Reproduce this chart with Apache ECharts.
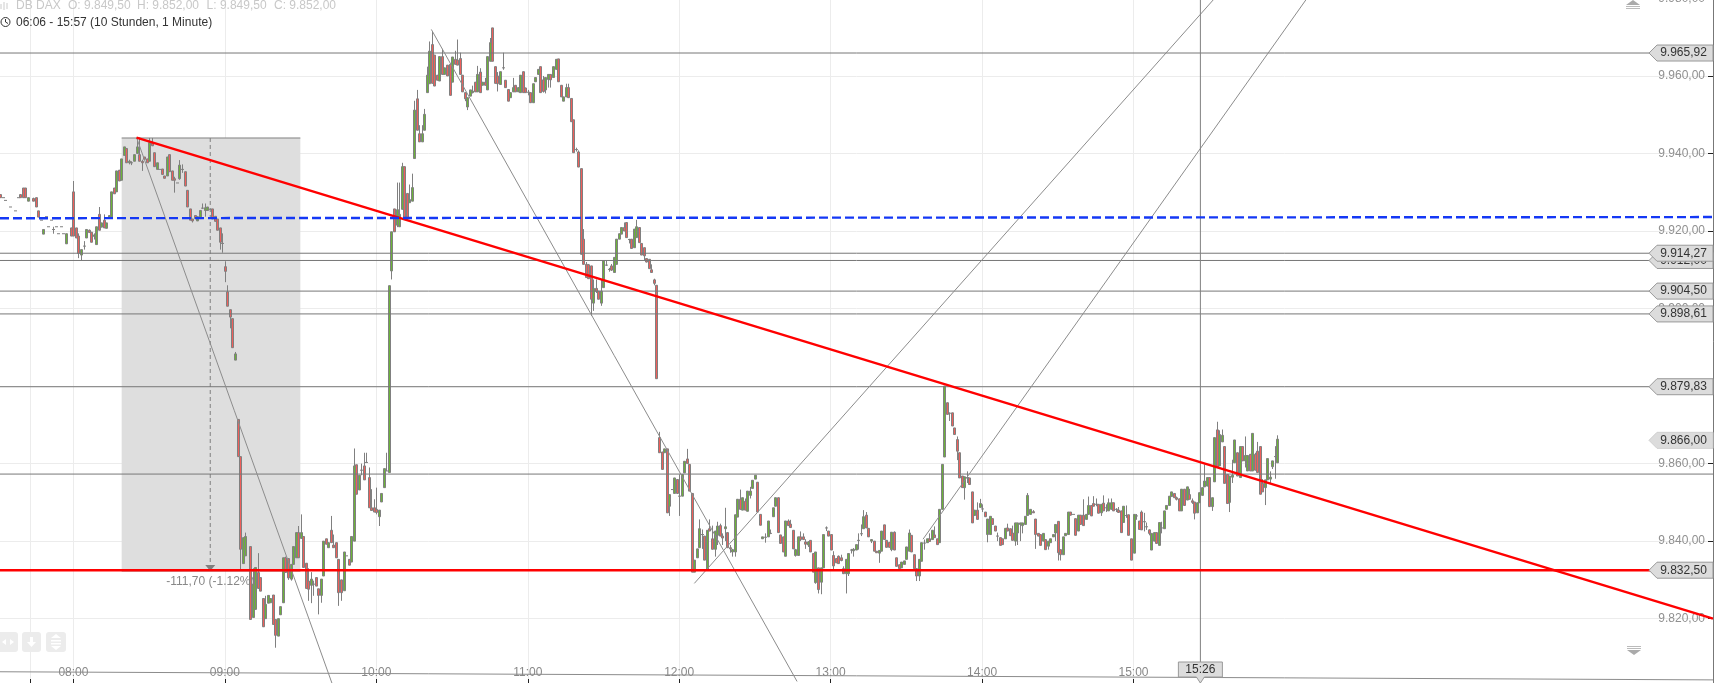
<!DOCTYPE html>
<html><head><meta charset="utf-8">
<style>html,body{margin:0;padding:0;background:#fff}#c{width:1716px;height:683px}</style>
<script src="https://cdn.jsdelivr.net/npm/echarts@6/dist/echarts.min.js"></script>
</head><body><div id="c"></div>
<script>
// Candles per hour: [open, high, low, close], one row per minute, null where no trade is drawn
const start07 = 451;
const hour07 = [
[9929.4,9929.4,9928.6,9928.6],[9928.6,9928.6,9928.6,9928.6],[9927.9,9927.9,9927.9,9927.9],null,[9926.2,9926.2,9926.2,9926.2],null,[9925.2,9925.2,9925.2,9925.2],[9928.6,9928.6,9928.6,9928.6],[9929.4,9929.4,9928.6,9928.6],[9931.1,9931.1,9928.6,9928.6],[9931.1,9931.1,9928.6,9928.6],[9927.7,9928.6,9927.7,9928.6],null,[9928.4,9928.6,9927.7,9927.7],[9928.6,9928.6,9926.2,9926.2],[9925.2,9925.2,9923.6,9923.6],[9922.8,9922.8,9922.8,9922.8],[9919.2,9920.4,9919.2,9920.4],[9923.7,9923.7,9923.7,9923.7],[9921.1,9921.1,9921.1,9921.1],[9922.8,9922.8,9922.8,9922.8],[9920.4,9921.1,9919.3,9920.4],[9921.1,9921.1,9921.1,9921.1],[9919.3,9919.3,9919.3,9919.3],[9921.1,9921.1,9921.1,9921.1],[9919.3,9919.3,9919.3,9919.3],[9916.7,9919.3,9916.7,9919.3],null,[9920.8,9920.8,9918.7,9918.7]];
const hour08 = [
[9930.1,9932.9,9918.7,9918.7],[9920.8,9920.8,9918.2,9918.2],[9918.7,9919.4,9913,9914.2],[9913.8,9915.2,9912.5,9915.2],[9916.1,9917.4,9915.2,9916.1],[9918.2,9920.4,9918.2,9920.4],[9920.2,9920.4,9919.6,9919.6],[9919.7,9919.7,9917.1,9917.1],[9918.6,9919.4,9917.8,9919],[9916.5,9921.1,9916.5,9921.1],
[9924.3,9926.2,9920.2,9920.2],[9921,9922.1,9921,9922.1],[9922.8,9924.3,9920.8,9920.8],[9920.7,9922.1,9920.7,9922.1],[9923.6,9924,9923.6,9924],[9923.6,9930.1,9923.6,9930.1],[9931.1,9931.1,9929.6,9929.6],[9930.1,9935.5,9930.1,9935.5],[9935.7,9935.7,9932.9,9932.9],[9933.1,9938.6,9933.1,9938.6],
[9939.5,9941.7,9939.5,9941.7],[9941.3,9941.3,9937.6,9937.6],[9937.6,9938.4,9937.2,9938],[9937.6,9938,9937,9937.6],[9938,9939.7,9938,9939.7],[9940,9944,9940,9941.7],[9939.7,9944.1,9938,9938],[9938,9938.4,9935.5,9937.6],[9939.1,9939.1,9938.5,9938.5],[9938.6,9938.6,9937.6,9937.6],
[9938,9944,9938,9942.8],[9942.8,9944,9941.9,9942],[9940.2,9940.2,9936.6,9936.6],[9935.9,9937.6,9935.9,9937.6],[9935.9,9935.9,9935.9,9935.9],[9936,9936,9934.6,9934.6],[9934.2,9934.2,9933.6,9933.6],[9934.2,9939.1,9934.2,9939.1],[9939.7,9939.7,9935.3,9935.3],[9935.5,9935.5,9933.1,9933.1],
[9933.5,9934,9929.9,9933.1],[9932.4,9932.4,9932.4,9932.4],[9933.5,9938.3,9933.2,9937],[9935.9,9937.2,9935,9935.9],[9935.3,9935.3,9931.6,9931.6],[9930.5,9930.5,9926.2,9926.2],[9925.7,9925.7,9922.8,9922.8],[9923.1,9923.1,9922.2,9922.6],[9924,9924,9923.2,9923.2],[9922.6,9923.7,9922.6,9923.7],
[9923.2,9925.3,9923.2,9925.3],[9925.9,9927.1,9925.7,9925.9],[9925.3,9927.1,9923.7,9926],[9925.3,9926.2,9925.3,9926.2],[9925.6,9925.6,9925.6,9925.6],[9925.7,9925.7,9923.1,9923.1],[9923.8,9923.8,9922.5,9922.5],[9923.1,9923.1,9920.2,9920.2],[9920.8,9920.8,9915.2,9917.1],[9916.8,9919.4,9914.4,9916.8]];
const hour09 = [
[9910.8,9912.2,9906.8,9909.6],[9904.3,9906,9900.6,9900.6],[9899.7,9899.7,9894.9,9897.8],[9897.4,9897.4,9889.9,9889.9],[9886.7,9888.8,9886.7,9888.3],[9871.4,9871.4,9861.8,9861.8],[9861.8,9861.8,9832.7,9837.9],[9834.2,9840.9,9834.2,9840.9],[9836.2,9842.2,9836.2,9841.2],null,
[9838.6,9838.6,9819.8,9819.8],[9820.3,9833,9820.3,9828.9],[9822.4,9833.2,9822.4,9833.2],[9831.9,9836.9,9827.8,9827.8],[9830.6,9830.6,9827.1,9827.1],[9825.2,9825.2,9817.9,9817.9],[9820,9825.9,9820,9823.7],[9824,9826,9824,9826],[9824.1,9825.2,9824.1,9825.2],[9826.1,9826.1,9818.5,9818.5],
[9819.8,9819.8,9812.5,9815.7],[9815.5,9820,9815.5,9820],[9821,9823.1,9821,9823.1],[9824.1,9835.7,9824.1,9835.7],[9835.7,9836,9831.9,9831.9],[9835.5,9835.5,9830,9830.5],[9830.2,9834,9829.8,9834],[9834,9838.6,9834,9838.6],[9835.7,9842.2,9835.7,9842.2],[9842.2,9843.9,9835.7,9835.7],
[9840.7,9846.9,9840.7,9842.2],[9841.2,9841.2,9833.2,9833.2],[9834.3,9834.3,9827.8,9827.8],[9829.7,9833,9824.6,9827.6],[9828.6,9832,9824,9830.2],[9828.9,9829.8,9825.9,9828.9],[9830.6,9830.6,9828.4,9828.4],[9827.7,9827.7,9821.1,9826],[9826,9830.2,9824.1,9830.2],[9831,9840,9831,9840],
[9840.6,9840.6,9839.2,9839.2],[9838.3,9839.6,9838.3,9839.6],[9842.8,9846.5,9839.6,9839.6],[9839,9841.7,9838.3,9838.3],[9839.6,9839.6,9835.7,9835.7],[9835.3,9835.3,9823.3,9826.7],[9830,9830,9824.6,9826.7],[9827.2,9837.2,9827.2,9837.2],[9836.2,9836.2,9836.2,9836.2],[9835.3,9835.3,9833.8,9833.8],
[9834.6,9841.2,9834.6,9841.2],[9840,9863.9,9840,9859.4],[9859.7,9859.7,9852.1,9852.1],[9853.2,9857,9853.2,9857],[9858.3,9860,9857,9858.3],[9859.4,9862.8,9855.8,9855.8],[9860.3,9862.8,9860.2,9860.3],[9856.4,9859,9848.6,9848.6],[9848.6,9853.4,9847.9,9847.9],[9848.6,9850.8,9847.5,9847.5]];
const hour10 = [
[9848.2,9853.8,9846.9,9847.4],[9846.3,9848,9843.9,9848],[9850.1,9852.3,9850.1,9852.3],[9853.8,9858.7,9853.8,9858.7],[9858.1,9862.8,9858.1,9858.1],[9857.7,9905.9,9857.7,9905.9],[9909.7,9919.8,9907.5,9919.8],[9925.7,9925.7,9919.8,9919.8],[9921.5,9932.5,9921,9925.5],[9921.1,9932.5,9921.1,9924.3],
[9925.6,9937.6,9925.6,9936.6],[9936.6,9936.6,9923.2,9923.2],[9929.7,9929.7,9923.2,9923.2],[9927.3,9932,9927.3,9928.1],[9927.7,9934.8,9927.7,9931.2],[9938.7,9953.6,9938.7,9951.2],[9954.1,9956.4,9946,9946],[9945.1,9947.3,9943,9943],[9943,9947.3,9943,9945.1],[9946,9951.5,9946,9950.1],
[9955.7,9962.4,9955.7,9960.2],[9958,9968.9,9958,9966.4],[9968.1,9971.5,9958.1,9958.1],[9965.4,9965.4,9957.4,9957.4],[9960.2,9960.2,9958.9,9958.9],[9958.7,9965,9958.7,9965],[9965,9967,9960.4,9960.4],[9960.4,9962.1,9960.4,9962.1],[9962.8,9962.8,9960,9960],[9963,9963,9955,9955],
[9958.4,9964.9,9958.4,9964.9],[9964.3,9966.5,9963,9963],[9964.1,9969.4,9962.8,9962.8],[9964.5,9966,9960.4,9960.4],[9960.2,9960.2,9955.9,9955.9],[9955.7,9955.7,9953.5,9954.1],[9952,9954.4,9951.2,9954.4],[9954.8,9956.4,9954.8,9956.4],[9955.7,9957.5,9955.5,9956.1],[9958.4,9958.4,9955.9,9955.9],
[9955.9,9962.6,9955.9,9960.4],[9961,9962,9955.7,9955.7],[9957.6,9958.4,9957.6,9958.4],[9958.4,9959.5,9957.6,9957.6],[9956.4,9965,9956.4,9965],[9963.8,9969.8,9963.8,9968.6],[9972.4,9972.4,9963.8,9963.8],[9962.4,9962.4,9958.1,9958.1],[9960,9961,9956,9958],[9957.8,9961.1,9957.8,9961.1],
[9962.1,9966,9961.6,9962.1],[9958.9,9958.9,9957,9957],[9956.5,9956.5,9953.5,9953.5],[9954.4,9955.7,9954.4,9955.7],[9955.9,9959.5,9955.9,9957],[9957.6,9957.6,9955.9,9955.9],[9955.9,9957,9955.9,9957],[9955.7,9960.2,9955.7,9960.2],[9961.1,9961.1,9955.7,9955.7],[9956.9,9957,9955.7,9955.7]];
const hour11 = [
[9955.8,9956.4,9955,9955.6],[9955.7,9955.7,9953.1,9953.1],[9953.1,9958,9953.1,9958],[9958.5,9959.6,9958.5,9959.6],[9960.4,9961.7,9960.4,9961.7],[9962.4,9962.4,9955.7,9955.7],[9959,9960,9955.7,9956],[9956.4,9959.6,9955.5,9959.6],[9959.1,9960.4,9957,9960.4],[9960.4,9960.4,9957,9959],
[9959.6,9962.4,9959.6,9962.4],[9961.7,9964.3,9961.7,9964.3],[9964.4,9964.4,9958.5,9958.5],[9957.6,9957.6,9954.6,9954.6],[9953.5,9954.6,9953.5,9954.6],[9954.6,9958,9954.6,9957],[9957,9958,9954.4,9954.4],[9954.2,9954.2,9948.2,9948.2],[9948.7,9948.7,9940.2,9940.2],[9941,9941.5,9940.5,9941],
[9940.4,9940.8,9936.5,9936.5],[9936.1,9936.1,9914,9914],[9917.9,9920.5,9911.4,9911.4],[9911.4,9912,9908,9908],[9911.3,9911.5,9907.7,9907.7],[9911,9911,9898.1,9902.4],[9901.4,9907.5,9899.4,9905.2],[9905.2,9907.5,9904,9904.4],[9904.5,9904.5,9902.4,9902.4],[9901.4,9907.5,9900.7,9904.5],
[9905.4,9912.3,9905.4,9912.3],[9911.2,9912.3,9911,9911.2],[9910.1,9910.5,9909.5,9910.1],[9911,9911.5,9909.7,9909.9],[9909.3,9913.2,9909.3,9913.2],[9911.4,9917.9,9911.4,9917.9],[9917.9,9919.3,9917.9,9919.3],[9919.2,9920.9,9919.2,9920.9],[9920.9,9922.2,9920,9920],[9922.2,9922.2,9918.3,9918.3],
[9917.8,9918,9916.8,9917.6],[9917.9,9917.9,9915.5,9915.5],[9915.7,9920.5,9915.7,9920.5],[9918.3,9922.9,9918.3,9921.1],[9920.9,9920.9,9917,9917],[9916.8,9916.8,9913.8,9913.8],[9915.7,9915.7,9912.3,9913.6],[9912.9,9912.9,9911.9,9912],[9912.7,9912.7,9910.3,9910.3],[9910,9911.4,9909.3,9909.3],
[9907.4,9907.7,9906,9906.5],[9906,9906,9881.9,9881.9],[9866.7,9868.2,9862.8,9862.8],[9863,9863,9858.5,9858.5],[9862.8,9863.8,9862.8,9863.8],[9863.8,9863.8,9847.3,9847.3],[9849,9852,9846.5,9852],[9853.3,9853.3,9853.3,9853.3],[9852.3,9856.3,9852.3,9856.3],[9855.9,9855.9,9852.3,9852.3]];
const hour12 = [
[9851.6,9857.2,9846.5,9851.6],[9851.6,9857.2,9851.6,9857.2],[9857.6,9860.6,9857.6,9860.6],[9861.2,9863.8,9860,9860],[9859.8,9859.8,9852.9,9852.9],[9852.3,9852.3,9832,9832],[9832,9835.1,9832,9835.1],[9835.7,9838,9835.7,9838],[9838.3,9845.6,9838.3,9843.2],[9841.7,9843,9838,9841.7],
[9841.3,9841.3,9835.1,9835.1],[9832.7,9842.8,9832.7,9842.8],[9843.2,9845.6,9842.6,9842.6],[9840.6,9844,9837.9,9837.9],[9837.9,9842.6,9836,9842.6],[9841.5,9845,9839,9843.9],[9844,9844.5,9841.3,9841.3],[9841.3,9842,9839,9840.8],[9843.2,9848.6,9840,9843.7],[9842.2,9842.2,9838.3,9838.3],
[9838.3,9839,9837,9838],[9837.2,9838,9836,9837.8],[9837.2,9846.8,9836,9846.8],[9846.2,9850.8,9846.2,9850.8],[9850.8,9853.3,9848.2,9848.2],[9848,9851.2,9848,9851.2],[9850.3,9851,9848,9848],[9847.7,9852.9,9847.7,9852.9],[9851.8,9854,9851,9852.9],[9853.6,9855.7,9853.6,9855.7],
[9856,9857,9856,9857],[9855.2,9855.2,9847.5,9847.5],[9846.9,9846.9,9844.1,9844.1],[9840.6,9841.1,9840.6,9841.1],[9841,9842,9839.6,9841],[9841.1,9845.2,9841.1,9845.2],[9842,9843,9841.8,9842],[9846.3,9848.6,9846.3,9848.6],[9849,9851.2,9849,9851.2],[9851.2,9851.2,9842.2,9842.2],
[9841.6,9841.6,9839.4,9839.4],[9841.1,9841.1,9837.2,9837.2],[9836.1,9845.2,9836.1,9845.2],[9845.2,9845.6,9844,9844],[9844.4,9845.5,9843.5,9843.5],[9842.8,9842.8,9838,9838],[9836.3,9838,9836,9837.8],[9836.3,9841.1,9836.3,9841.1],[9841.1,9842.5,9840,9840.4],[9841.1,9842,9840.4,9840.4],
[9839.8,9840.5,9838,9839.2],[9839,9840,9838.5,9839.8],[9840.2,9840.2,9837.2,9837.2],[9836.8,9836.8,9832,9832],[9829.3,9837.2,9829,9837.2],[9833.1,9833.1,9826.5,9827.5],[9829.4,9833.1,9826.3,9833.1],[9833.1,9841.7,9833.1,9841.7],[9843.4,9843.8,9842.6,9843.4],[9842.6,9842.6,9841.3,9841.3]];
const hour13 = [
[9841.7,9841.7,9837.7,9837.7],[9836.3,9837.4,9832.3,9833.6],[9835.5,9835.5,9834.4,9834.4],[9836.1,9836.3,9834.2,9834.2],[9835.7,9836.5,9834.8,9835],[9832.9,9833.5,9831.6,9831.6],[9831.6,9835.3,9826.5,9835.3],[9831.6,9836.8,9831,9836.8],[9837.7,9838,9836.8,9837.7],[9837.5,9838.2,9836,9837.9],
[9837.7,9839.1,9837.7,9839.1],[9840.2,9842,9837.8,9840.2],[9841.9,9844.3,9841.3,9841.9],[9843.2,9848,9843.2,9846.3],[9846.7,9847.5,9843.4,9843.4],[9843.3,9843.3,9841.1,9841.1],[9840,9840.5,9839.5,9840.4],[9840,9840,9837.4,9837.4],[9837.4,9837.4,9837,9837],[9836.9,9837.6,9834.4,9837.6],
[9837.4,9842.6,9837.4,9842.6],[9844.2,9844.2,9840.4,9840.4],[9840.2,9840.2,9838.4,9838.4],[9839.7,9839.7,9838.4,9838.4],[9837.8,9842.3,9837.4,9842.3],[9842.3,9842.5,9837.7,9837.7],[9835.7,9835.7,9833.5,9833.5],[9833.9,9833.9,9832.9,9832.9],[9833.1,9834.6,9833.1,9834.6],[9834,9834.9,9834,9834.9],
[9835.3,9838.5,9835.3,9838.5],[9837.4,9843,9837.4,9842.1],[9841.5,9841.5,9837.2,9837.2],[9836.5,9836.5,9832.9,9832.9],[9832.9,9832.9,9829.7,9831],[9831,9835.3,9829.7,9835.3],[9834.8,9839.6,9834.8,9839.6],[9839.5,9840.4,9837.8,9839.5],[9839.6,9840.6,9839.6,9840.6],[9840.6,9842,9839.8,9839.9],
[9840.4,9842.8,9840.4,9842.8],[9841.6,9843.8,9840.9,9840.9],[9840.6,9840.6,9839.1,9839.1],[9839.6,9848.2,9839.6,9848.2],[9848.2,9859.8,9848.2,9859.8],[9861.7,9880,9861.7,9880],[9875.7,9875.7,9872.7,9872.7],[9873,9873.2,9871,9873],[9873.1,9873.1,9869.7,9869.7],[9869.2,9869.2,9867.5,9867.5],
[9866.2,9867,9860.9,9863.2],[9862.8,9862.8,9856.3,9856.3],[9856.8,9856.8,9853.8,9853.8],[9853.8,9856.6,9850.7,9856.6],[9856.3,9858,9855,9856.4],[9856.3,9856.3,9854.6,9854.6],[9852.7,9852.7,9844.7,9844.7],[9846.6,9848,9846.6,9848],[9848,9850,9845.6,9845.6],[9848.7,9850.9,9848.7,9849.7]];
const hour14 = [
[9848.3,9849.5,9847.5,9848.3],[9847.5,9847.5,9846.3,9846.3],[9841.7,9845.7,9839.7,9845.7],[9841.7,9846.4,9841.7,9846.4],[9845.8,9845.8,9844.3,9844.3],[9843.9,9843.9,9842.6,9842.6],[9841.3,9842.2,9840,9841.3],[9840.9,9840.9,9838.9,9838.9],[9840.6,9840.6,9839.1,9839.1],[9840.6,9843.3,9840.6,9843.3],
[9843.4,9844.5,9842.6,9842.6],[9843.2,9843.2,9841.4,9841.4],[9842.1,9844,9840.2,9840.2],[9840,9844.7,9838.8,9844.7],[9842.1,9844.7,9839,9844.7],[9844.3,9844.7,9840,9844.7],[9844,9844.7,9842,9844.7],[9844.3,9846.4,9844.3,9846.4],[9846.6,9852.4,9846.6,9851.8],[9846.9,9848.2,9846.9,9848.2],
[9847.6,9848,9847.3,9847.3],[9845.7,9845.7,9838,9841.7],[9842,9842,9841.3,9841.3],[9841.7,9841.7,9838.9,9838.9],[9840,9842,9840,9842],[9840.4,9840.4,9837.8,9837.8],[9838.7,9840,9837.8,9840],[9839.6,9840.6,9839.6,9840.6],[9841.1,9841.7,9841.1,9841.7],[9842.1,9844.3,9840,9844.3],
[9845.1,9845.1,9835,9837],[9837.8,9837.8,9835,9836.5],[9836.5,9841.1,9836.5,9841.1],[9841.4,9842,9841.4,9842],[9841.7,9847.5,9841.7,9847.5],[9847.5,9847.5,9846.6,9846.7],[9846.9,9846.9,9846.9,9846.9],[9845.8,9845.8,9841.5,9841.5],[9842.6,9846.7,9842.6,9846.7],[9846.7,9846.7,9844.3,9844.3],
[9846.7,9850.8,9844,9844],[9845.6,9847,9845.6,9846.9],[9846.9,9851.5,9846.9,9849.2],[9849.2,9849.2,9846.5,9846.5],[9849.7,9851.6,9849,9849],[9849.5,9851,9849,9849.5],[9849.5,9849.5,9847.2,9847.2],[9847.3,9849.5,9846.5,9849.5],[9849.8,9851.8,9847.8,9847.8],[9848.6,9849.5,9847.5,9848.6],
[9847.8,9851,9847.8,9849.9],[9848.2,9851,9848.2,9849.9],[9849.9,9849.9,9847.8,9847.8],[9848.2,9848.5,9847.5,9848.2],[9848,9848.8,9847.3,9847.4],[9847.8,9847.8,9842.2,9842.2],[9844.8,9849,9844.8,9849],[9846.6,9849.2,9846,9846.6],[9846.8,9846.8,9841.5,9841.5],[9840.6,9840.6,9835.1,9835.1]];
const hour15 = [
[9836.9,9846.9,9836.9,9846.9],[9846.5,9847,9845.5,9846.5],[9845.2,9845.2,9843,9843],[9847.5,9847.9,9842.9,9842.9],[9845,9847.3,9842.5,9845],[9843.7,9844.8,9842.9,9843.7],[9842.9,9843,9841.5,9842],[9837.7,9842,9837.7,9842],[9840,9842.2,9840,9842.2],[9842.2,9842.2,9839.4,9839.4],
[9838.9,9844.8,9838.9,9844.8],[9843.4,9845,9842,9843.4],[9843.2,9847.8,9843.2,9847.8],[9848.2,9849.2,9848.2,9849.2],[9849.2,9851.6,9849.2,9851.6],[9851.5,9852.7,9851.5,9852.7],[9852.3,9852.3,9851.2,9851.2],[9851.2,9851.5,9850.5,9850.8],[9850.9,9851,9847.8,9847.8],[9847.8,9853.4,9847.8,9853.4],
[9853.4,9853.4,9849.2,9849.2],[9850.6,9854,9850.6,9854],[9852,9853.5,9850.8,9850.8],[9850.4,9851,9849.6,9850],[9850.1,9850.1,9845.6,9847.2],[9847.3,9849.9,9847.3,9849.9],[9849.9,9852.5,9849.9,9852.5],[9851.8,9853.8,9851.8,9853.8],[9854,9859.8,9854,9855.5],[9854.2,9856.4,9854.2,9856.4],
[9856.4,9856.4,9848.9,9848.9],[9848.9,9851.2,9847.8,9851.2],[9855.3,9866.7,9855.3,9866.7],[9868.7,9870.8,9859,9859],[9859.4,9868.6,9859.4,9867.5],[9865.6,9868.8,9865.6,9867.3],[9864.4,9864.4,9854.9,9854.9],[9857.2,9857.2,9849.7,9849.7],[9850,9856.8,9847.5,9856.8],[9856.5,9861,9855,9857],
[9860.2,9866.1,9860.2,9866.1],[9862.8,9862.8,9856.8,9856.8],[9856.4,9864.4,9856.4,9864.4],[9864.4,9864.4,9860.7,9860.7],[9860.7,9867,9859,9862.1],[9858.1,9862.1,9858.1,9862.1],[9862.4,9862.4,9858.1,9858.1],[9858.1,9867.8,9858.1,9867.8],[9862.4,9862.8,9858.3,9858.3],[9863.2,9865.6,9857.7,9857.7],
[9864.4,9864.4,9852.1,9852.1],[9854.9,9856,9852.7,9852.7],[9853.8,9855.8,9849.3,9855.8],[9855.8,9861.3,9855.8,9861.3],[9856,9858,9855,9856.5],[9859.2,9860.7,9858.6,9860.7],[9861.8,9864.5,9856.1,9861.8],[9860.2,9867.3,9860.2,9866.3]];

// Axes
const xMin = 450.9, xMax = 1129.6, yMin = 9803.4, yMax = 9980;
const xTickMinutes = [480,540,600,660,720,780,840,900];
const xGridMinutes = [463,480,540,600,660,720,780,840,900];
const yTicks = [9820,9840,9860,9880,9900,9920,9940,9960,9980];

// Drawn levels and trend lines, [minute, price]
const greyLevels = [9965.92,9914.27,9912.4,9904.5,9898.61,9879.83,9857.3];
const redLevel = 9832.5;
const blueLine = [[450.9,9923.3],[1129.6,9923.6]];
const redTrend = [[505,9944.1],[1129.6,9820]];
const greyTrends = [
  [[505,9944.1],[582.4,9803.4]],
  [[621.8,9972],[766.7,9803.8]],
  [[726,9829.1],[932.1,9980]],
  [[816.6,9840.5],[968.7,9980]],
  [[450.9,9806.3],[1129.6,9804.2]]
];
const flags = [
  [9965.92,'9.965,92',0],[9912.4,'9.912,00',0],[9914.27,'9.914,27',0],[9904.5,'9.904,50',0],
  [9898.61,'9.898,61',0],[9879.83,'9.879,83',0],[9866,'9.866,00',1],[9832.5,'9.832,50',0]
];
// Measuring box
const boxX = [499.1,569.9], boxY = [9832.3,9944], measureX = 534.2, measureText = '-111,70 (-1.12%)';
const crossMinute = 926.5, crossLabel = '15:26';

const font = '"Liberation Sans", Arial, sans-serif';
const candleData = [];
[hour07,hour08,hour09,hour10,hour11,hour12,hour13,hour14,hour15].forEach((rows,i)=>{
  const s = i===0 ? start07 : 420+60*i;
  rows.forEach((r,j)=>{ if(r) candleData.push([s+j,r[0],r[1],r[2],r[3]]); });
});
const pad2=n=>String(n).padStart(2,'0');
const fmtY=v=>{const s=v.toFixed(2).replace('.',',');return s.slice(0,1)+'.'+s.slice(1);};

function renderCandle(p,api){
  const m=api.value(0),o=api.value(1),h=api.value(2),l=api.value(3),c=api.value(4);
  const pO=api.coord([m,o]),pH=api.coord([m,h]),pL=api.coord([m,l]),pC=api.coord([m,c]);
  const w=2;const x=Math.round(pO[0]);
  const kids=[];
  if(pL[1]-pH[1]>0.5) kids.push({type:'line',shape:{x1:x+.5,y1:pH[1],x2:x+.5,y2:pL[1]},style:{stroke:'#808080',lineWidth:1}});
  const top=Math.min(pO[1],pC[1]),ht=Math.abs(pO[1]-pC[1]);
  if(ht<0.8){
    kids.push({type:'line',shape:{x1:x-1,y1:top,x2:x+2,y2:top},style:{stroke:'#808080',lineWidth:1}});
  }else{
    kids.push({type:'rect',shape:{x:x-.5,y:top,width:w,height:ht},style:{fill:c>=o?'#6cb33a':'#ee5f5b',stroke:'#808080',lineWidth:1}});
  }
  return {type:'group',children:kids};
}
function renderFlag(p,api){
  const v=api.value(0),light=api.value(2);
  const pt=api.coord([xMax,v]);const r=pt[0],y=pt[1];
  const t=flags[p.dataIndex][1];
  return {type:'group',children:[
    {type:'polygon',shape:{points:[[r-64,y],[r-56,y-8],[r,y-8],[r,y+8],[r-56,y+8]]},style:{fill:'#dcdcdc',stroke:light?'#cfcfcf':'#999',lineWidth:1}},
    {type:'text',style:{x:r-29.5,y:y,text:t,fill:'#333',font:'12px '+font,align:'center',verticalAlign:'middle'}}
  ]};
}
function renderBox(p,api){
  const a=api.coord([boxX[0],boxY[1]]),b=api.coord([boxX[1],boxY[0]]);
  const mx=api.coord([measureX,boxY[1]])[0];
  return {type:'group',children:[
    {type:'rect',shape:{x:a[0],y:a[1],width:b[0]-a[0],height:b[1]-a[1]},style:{fill:'#dedede'}},
    {type:'line',shape:{x1:a[0],y1:a[1],x2:b[0],y2:a[1]},style:{stroke:'#808080',lineWidth:1}},
    {type:'line',shape:{x1:a[0],y1:b[1],x2:b[0],y2:b[1]},style:{stroke:'#808080',lineWidth:1}},
    {type:'line',shape:{x1:mx,y1:a[1],x2:mx,y2:b[1]-6},style:{stroke:'#808080',lineWidth:1,lineDash:[4,3]}},
    {type:'polygon',shape:{points:[[mx-5,b[1]-6],[mx+5,b[1]-6],[mx,b[1]]]},style:{fill:'#808080'}},
    {type:'text',style:{x:mx-44,y:b[1]+11,text:measureText,fill:'#888',font:'12px '+font,align:'left',verticalAlign:'middle'}}
  ]};
}
function renderCross(p,api){
  const b=api.coord([crossMinute,yMin]);const x=b[0],y=b[1];
  return {type:'group',children:[
    {type:'polygon',shape:{points:[[x-22,y-21],[x+22,y-21],[x+22,y-6],[x+4,y-6],[x,y],[x-4,y-6],[x-22,y-6]]},style:{fill:'#dcdcdc',stroke:'#999',lineWidth:1}},
    {type:'text',style:{x:x,y:y-13.5,text:crossLabel,fill:'#333',font:'12px '+font,align:'center',verticalAlign:'middle'}}
  ]};
}
const lineS=(data,color,width,extra)=>Object.assign({type:'line',data,symbol:'none',silent:true,lineStyle:{color,width},z:5},extra||{});

const series=[
  {type:'custom',renderItem:renderBox,data:[[boxX[0],boxY[0]]],encode:{x:0,y:1},z:1,silent:true},
  {type:'custom',renderItem:renderCandle,data:candleData,encode:{x:0,y:[1,2,3,4]},z:3,clip:true,silent:true}
];
greyLevels.forEach(v=>series.push(lineS([[xMin,v],[xMax,v]],'#777',1,{z:4})));
greyTrends.forEach(t=>series.push(lineS(t,'#8c8c8c',1,{z:4})));
series.push(lineS([[crossMinute,yMin],[crossMinute,yMax]],'#808080',1,{z:4}));
series.push(lineS([[xMin,redLevel],[xMax,redLevel]],'#ff0000',2.4));
series.push(lineS(redTrend,'#ff0000',2.4));
series.push(lineS(blueLine,'#1438f5',2.4,{lineStyle:{color:'#1438f5',width:2.4,type:[9,4]}}));
series.push({type:'custom',renderItem:renderFlag,data:flags.map(f=>[f[0],xMax,f[2]]),encode:{x:1,y:0},z:8,silent:true,clip:false});
series.push({type:'custom',renderItem:renderCross,data:[[crossMinute,yMin]],encode:{x:0,y:1},z:8,silent:true,clip:false});

const gtxt=(x,y,t,f,extra)=>Object.assign({type:'text',left:x,top:y,z:20,style:{text:t,fill:f,font:'12px '+font}},extra||{});
const btn=(x,w)=>({type:'rect',shape:{x,y:632,width:w,height:20,r:3},style:{fill:'#ececec'},z:20});

const chart=echarts.init(document.getElementById('c'),null,{renderer:'canvas'});
chart.setOption({
  animation:false,backgroundColor:'#fff',
  grid:{left:0,right:3,top:-1.56,bottom:0,containLabel:false,outerBoundsMode:'none'},
  xAxis:{type:'value',min:xMin,max:xMax,
    axisLine:{show:false},
    axisTick:{inside:true,length:4,customValues:xGridMinutes,lineStyle:{color:'#222'}},
    axisLabel:{inside:true,margin:4,color:'#888',fontFamily:'Liberation Sans',fontSize:12,customValues:xTickMinutes,
      formatter:v=>pad2(Math.floor(v/60))+':'+pad2(v%60)},
    splitLine:{show:true,lineStyle:{color:'#ececec',width:1}}},
  yAxis:{type:'value',position:'right',min:yMin,max:yMax,
    axisLine:{show:true,lineStyle:{color:'#777',width:1}},
    axisTick:{inside:true,length:5,customValues:yTicks,lineStyle:{color:'#222'}},
    axisLabel:{inside:true,margin:8,color:'#909090',fontFamily:'Liberation Sans',fontSize:12,customValues:yTicks,padding:[0,0,3,0],
      formatter:fmtY},
    splitLine:{show:true,lineStyle:{color:'#ececec',width:1}}},
  graphic:[
    {type:'line',shape:{x1:1,y1:9,x2:1,y2:4},style:{stroke:'#ccc',lineWidth:1},z:20},
    {type:'line',shape:{x1:4,y1:10,x2:4,y2:2},style:{stroke:'#ccc',lineWidth:1},z:20},
    {type:'line',shape:{x1:7,y1:9,x2:7,y2:3},style:{stroke:'#ccc',lineWidth:1},z:20},
    gtxt(16,0,'DB DAX','#c8c8c8'),gtxt(68,0,'O: 9.849,50','#c8c8c8'),gtxt(137,0,'H: 9.852,00','#c8c8c8'),gtxt(206.6,0,'L: 9.849,50','#c8c8c8'),gtxt(274,0,'C: 9.852,00','#c8c8c8'),
    {type:'circle',shape:{cx:5.5,cy:22,r:4.5},style:{fill:'#fff',stroke:'#333',lineWidth:1},z:20},
    {type:'polyline',shape:{points:[[5.5,19],[5.5,22],[8,23.5]]},style:{stroke:'#333',fill:'none',lineWidth:1},z:20},
    gtxt(16,16.5,'06:06 - 15:57 (10 Stunden, 1 Minute)','#333'),
    btn(-4,22),btn(22,19),btn(46,20),
    {type:'polygon',shape:{points:[[27,642],[36,642],[31.5,647]]},style:{fill:'#fff'},z:21},
    {type:'rect',shape:{x:30,y:637,width:3,height:5},style:{fill:'#fff'},z:21},
    {type:'polygon',shape:{points:[[51,638],[61,638],[56,634]]},style:{fill:'#fff'},z:21},
    {type:'rect',shape:{x:51,y:640,width:10,height:1.5},style:{fill:'#fff'},z:21},
    {type:'rect',shape:{x:51,y:643,width:10,height:1.5},style:{fill:'#fff'},z:21},
    {type:'polygon',shape:{points:[[51,646],[61,646],[56,650]]},style:{fill:'#fff'},z:21},
    {type:'polygon',shape:{points:[[2,642],[6,639],[6,645]]},style:{fill:'#fff'},z:21},
    {type:'polygon',shape:{points:[[14,642],[10,639],[10,645]]},style:{fill:'#fff'},z:21},
    {type:'polygon',shape:{points:[[1633,0],[1626,5],[1640,5]]},style:{fill:'#aaa'},z:20},
    {type:'rect',shape:{x:1626,y:6,width:14,height:1},style:{fill:'#bbb'},z:20},
    {type:'rect',shape:{x:1626,y:8,width:14,height:1},style:{fill:'#bbb'},z:20},
    {type:'rect',shape:{x:1627,y:646,width:14,height:1},style:{fill:'#bbb'},z:20},
    {type:'rect',shape:{x:1627,y:648,width:14,height:1},style:{fill:'#bbb'},z:20},
    {type:'polygon',shape:{points:[[1627,650],[1641,650],[1634,655]]},style:{fill:'#aaa'},z:20}
  ],
  series
});
</script></body></html>
